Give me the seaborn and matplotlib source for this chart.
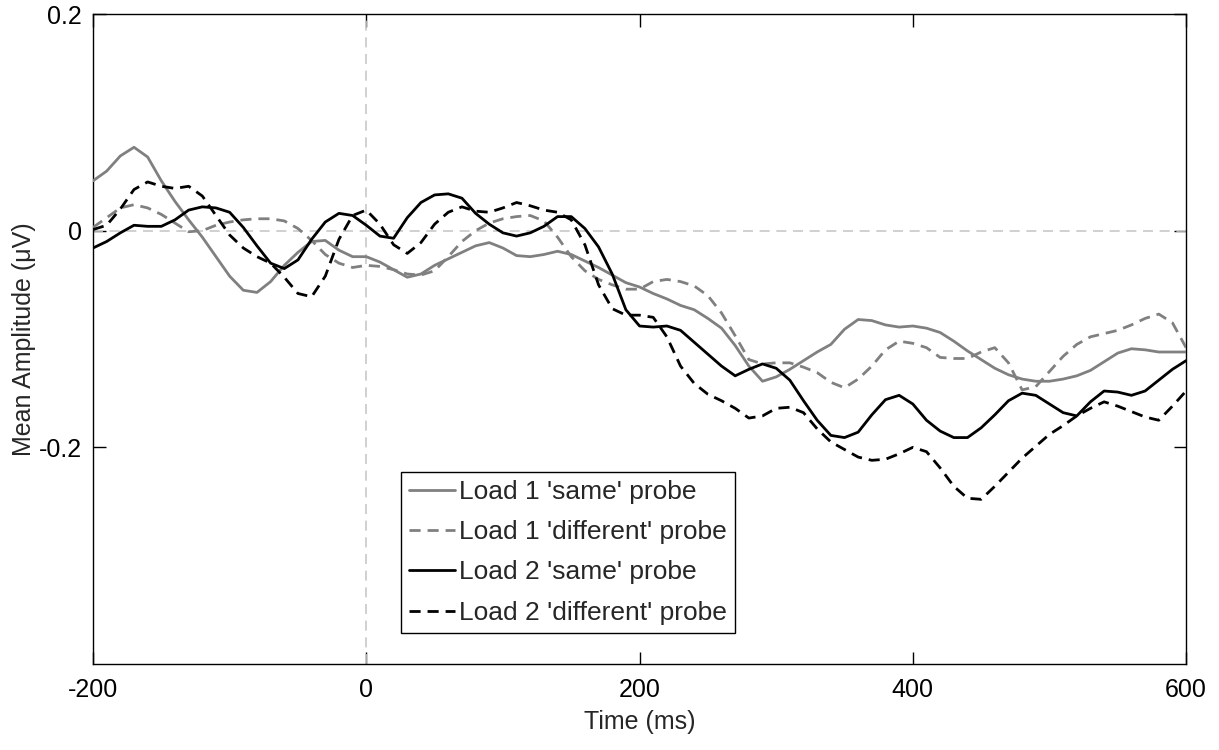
import numpy as np
import pandas as pd
import matplotlib
matplotlib.use("Agg")
import matplotlib.pyplot as plt
import seaborn as sns

time_ms = list(range(-200, 601, 10))

load1_same = [
    0.046, 0.055, 0.069, 0.077, 0.068, 0.046, 0.027, 0.010, -0.006, -0.024,
    -0.042, -0.055, -0.057, -0.047, -0.032, -0.020, -0.010, -0.009, -0.018, -0.024,
    -0.024, -0.029, -0.036, -0.043, -0.040, -0.032, -0.026, -0.020, -0.014, -0.011,
    -0.016, -0.023, -0.024, -0.022, -0.019, -0.022, -0.028, -0.034, -0.041, -0.048,
    -0.052, -0.058, -0.063, -0.069, -0.073, -0.081, -0.090, -0.106, -0.125, -0.139,
    -0.135, -0.128, -0.120, -0.112, -0.105, -0.091, -0.082, -0.083, -0.087, -0.089,
    -0.088, -0.090, -0.094, -0.102, -0.111, -0.119, -0.127, -0.133, -0.137, -0.139,
    -0.139, -0.137, -0.134, -0.129, -0.121, -0.113, -0.109, -0.110, -0.112, -0.112,
    -0.112]

load1_diff = [
    0.003, 0.012, 0.021, 0.024, 0.021, 0.015, 0.007, -0.001, 0.000, 0.005,
    0.008, 0.010, 0.011, 0.011, 0.009, 0.002, -0.009, -0.022, -0.030, -0.034,
    -0.032, -0.033, -0.036, -0.040, -0.041, -0.037, -0.024, -0.010, 0.000, 0.007,
    0.011, 0.013, 0.014, 0.009, -0.006, -0.024, -0.037, -0.045, -0.050, -0.054,
    -0.054, -0.047, -0.045, -0.047, -0.051, -0.060, -0.076, -0.097, -0.119, -0.123,
    -0.122, -0.122, -0.126, -0.131, -0.140, -0.145, -0.137, -0.125, -0.110, -0.102,
    -0.104, -0.108, -0.117, -0.118, -0.118, -0.112, -0.108, -0.122, -0.147, -0.144,
    -0.130, -0.116, -0.105, -0.098, -0.095, -0.092, -0.087, -0.081, -0.077, -0.085,
    -0.108]

load2_same = [
    -0.016, -0.010, -0.002, 0.005, 0.004, 0.004, 0.010, 0.019, 0.022, 0.021,
    0.017, 0.003, -0.014, -0.030, -0.035, -0.027, -0.008, 0.008, 0.016, 0.014,
    0.005, -0.005, -0.007, 0.012, 0.026, 0.033, 0.034, 0.030, 0.016, 0.006,
    -0.002, -0.005, -0.002, 0.004, 0.013, 0.013, 0.002, -0.015, -0.040, -0.073,
    -0.088, -0.089, -0.088, -0.092, -0.103, -0.114, -0.125, -0.134, -0.128, -0.123,
    -0.127, -0.138, -0.157, -0.175, -0.189, -0.191, -0.186, -0.170, -0.156, -0.152,
    -0.160, -0.175, -0.185, -0.191, -0.191, -0.182, -0.170, -0.157, -0.150, -0.152,
    -0.160, -0.168, -0.171, -0.158, -0.148, -0.149, -0.152, -0.148, -0.138, -0.128,
    -0.120]

load2_diff = [
    0.001, 0.005, 0.020, 0.038, 0.045, 0.041, 0.039, 0.041, 0.032, 0.014,
    -0.004, -0.016, -0.024, -0.030, -0.043, -0.058, -0.061, -0.042, -0.008, 0.014,
    0.019, 0.006, -0.013, -0.021, -0.011, 0.006, 0.017, 0.022, 0.018, 0.017,
    0.021, 0.026, 0.023, 0.019, 0.017, 0.010, -0.013, -0.050, -0.072, -0.078,
    -0.078, -0.080, -0.098, -0.125, -0.141, -0.151, -0.157, -0.164, -0.173, -0.171,
    -0.164, -0.163, -0.168, -0.183, -0.195, -0.202, -0.209, -0.212, -0.211, -0.206,
    -0.200, -0.204, -0.219, -0.236, -0.247, -0.248, -0.236, -0.223, -0.210, -0.199,
    -0.188, -0.180, -0.171, -0.164, -0.158, -0.162, -0.167, -0.172, -0.175, -0.162,
    -0.148]

labels = ["Load 1 'same' probe", "Load 1 'different' probe",
          "Load 2 'same' probe", "Load 2 'different' probe"]
series = [load1_same, load1_diff, load2_same, load2_diff]
colors = ["#808080", "#808080", "#000000", "#000000"]
styles = ["-", "--", "-", "--"]

x_ticks = [-200, 0, 200, 400, 600]
y_ticks = [-0.2, 0, 0.2]
y_ticklabels = ["-0.2", "0", "0.2"]

sns.set_theme(style="white")
plt.rcParams['font.family'] = ['Liberation Sans', 'DejaVu Sans']

fig = plt.figure(figsize=(12.19, 7.5), dpi=100)
ax = fig.add_axes([0.0763, 0.1147, 0.8967, 0.8666])

ax.axvline(0, color="#c8c8c8", lw=1.2, ls=(0, (6, 4)), zorder=1)
ax.axhline(0, color="#c8c8c8", lw=1.2, ls=(0, (6, 4)), zorder=1)

for vals, lab, col, st in zip(series, labels, colors, styles):
    df = pd.DataFrame({"t": time_ms, "v": vals})
    sns.lineplot(data=df, x="t", y="v", ax=ax, color=col, lw=2.0,
                 label=lab, zorder=3)
    ln = ax.get_lines()[-1]
    ln.set_solid_joinstyle("round")
    ln.set_dash_joinstyle("round")
    if st == "--":
        ln.set_linestyle((0, (4, 2.5)))

ax.set_xlim(-200, 600)
ax.set_ylim(-0.4, 0.2)
ax.set_xticks(x_ticks)
ax.set_xticklabels([str(t) for t in x_ticks])
ax.set_yticks(y_ticks)
ax.set_yticklabels(y_ticklabels)
ax.tick_params(direction="in", length=9, width=1, colors="black",
               labelsize=18, top=True, right=True, bottom=True, left=True)
ax.tick_params(axis="x", pad=10)
ax.tick_params(axis="y", pad=8)
for sp in ax.spines.values():
    sp.set_visible(True)
    sp.set_color("black")
    sp.set_linewidth(1.0)
ax.set_xlabel("Time (ms)", fontsize=18, labelpad=6)
ax.set_ylabel("Mean Amplitude (\u03bcV)", fontsize=18, labelpad=2)

leg = ax.legend(loc="lower left", bbox_to_anchor=(0.282, 0.048),
                fontsize=19, frameon=True, fancybox=False, framealpha=1,
                edgecolor="black", handlelength=1.75, handletextpad=0.15,
                borderpad=0.3, labelspacing=0.62, borderaxespad=0)
leg.get_frame().set_linewidth(1.0)

fig.savefig("out.png", dpi=100, facecolor="white")
